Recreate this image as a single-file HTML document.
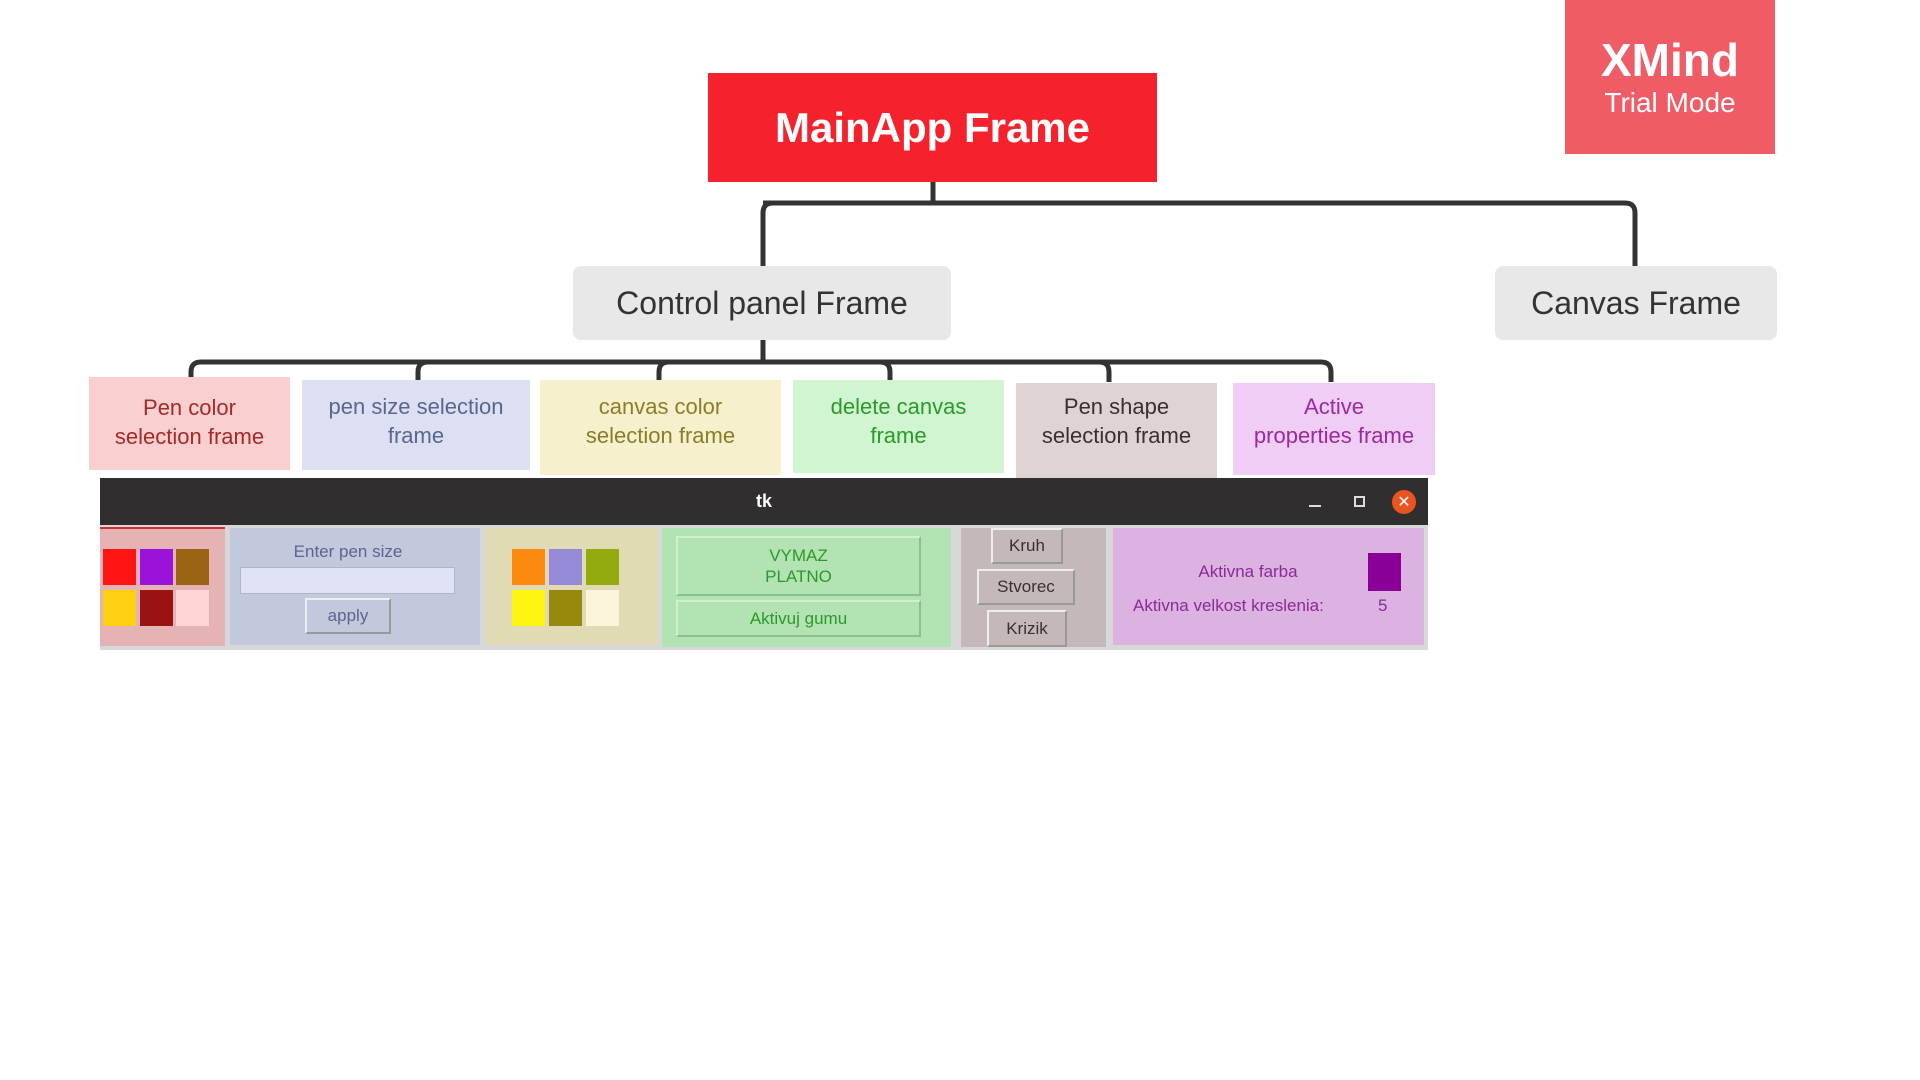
<!DOCTYPE html>
<html><head><meta charset="utf-8"><style>
body{margin:0;width:1920px;height:1080px;background:#fff;position:relative;overflow:hidden;font-family:"Liberation Sans",sans-serif}
div{position:absolute;box-sizing:border-box}
.c{display:flex;align-items:center;justify-content:center;text-align:center}
.n{font-size:22px;line-height:29px;align-items:flex-start;padding-top:12px}
.sq{width:33px;height:36px}
.btn{border:2px solid #a9a9a9;border-color:#eee #999 #999 #eee;font-size:17px}
</style></head><body>
<svg width="1920" height="1080" style="position:absolute;left:0;top:0">
<g fill="none" stroke="#333" stroke-width="5">
<path d="M933 182V203H773Q763 203 763 213V266"/>
<path d="M763 203H1625Q1635 203 1635 213V266"/>
<path d="M763 340V362"/>
<path d="M191 382V372Q191 362 201 362H1321Q1331 362 1331 372V382"/>
<path d="M418 382V372Q418 362 428 362M659 382V372Q659 362 669 362M890 382V372Q890 362 880 362M1109 382V372Q1109 362 1099 362"/>
</g></svg>
<div class="c" style="left:708px;top:73px;width:449px;height:109px;background:#f5222d;color:#fff;font-size:42px;font-weight:bold">MainApp Frame</div>
<div class="c" style="left:1565px;top:0;width:210px;height:154px;background:#ef5c66;color:#fff;flex-direction:column"><span style="font-size:46px;font-weight:bold;line-height:52px">XMind</span><span style="font-size:28px;line-height:34px">Trial Mode</span></div>
<div class="c" style="left:573px;top:266px;width:378px;height:74px;background:#e8e8e8;border-radius:8px;color:#333;font-size:32px">Control panel Frame</div>
<div class="c" style="left:1495px;top:266px;width:282px;height:74px;background:#e8e8e8;border-radius:8px;color:#333;font-size:32px">Canvas Frame</div>
<div class="c n" style="left:89px;top:377px;width:201px;height:93px;background:#f9cfcf;color:#a52a2a;padding-top:16px">Pen color<br>selection frame</div>
<div class="c n" style="left:302px;top:380px;width:228px;height:90px;background:#dde0f3;color:#5a6590">pen size selection<br>frame</div>
<div class="c n" style="left:540px;top:380px;width:241px;height:95px;background:#f7f0cc;color:#8a7d2a">canvas color<br>selection frame</div>
<div class="c n" style="left:793px;top:380px;width:211px;height:93px;background:#d0f5d0;color:#2a9a2a">delete canvas<br>frame</div>
<div class="c n" style="left:1016px;top:383px;width:201px;height:96px;background:#ded4d4;color:#3a3030;padding-top:9px">Pen shape<br>selection frame</div>
<div class="c n" style="left:1233px;top:383px;width:202px;height:92px;background:#efcdf5;color:#9a2aa0;padding-top:9px">Active<br>properties frame</div>
<!-- window -->
<div style="left:100px;top:478px;width:1328px;height:172px;background:#d8d8d8"></div>
<div class="c" style="left:100px;top:478px;width:1328px;height:47px;background:#302e2e;color:#fff;font-weight:bold;font-size:18px">tk</div>
<div style="left:1309px;top:505px;width:12px;height:2px;background:#ddd"></div>
<div style="left:1354px;top:496px;width:11px;height:11px;border:2px solid #ddd"></div>
<div class="c" style="left:1392px;top:490px;width:24px;height:24px;border-radius:50%;background:#e95420;color:#fff;font-size:16px">✕</div>
<div style="left:100px;top:527px;width:125px;height:119px;background:#e6b3b5;border-top:2px solid #d03030"></div>
<div class="sq" style="left:103px;top:549px;background:#ff1414"></div>
<div class="sq" style="left:140px;top:549px;background:#9b12d8"></div>
<div class="sq" style="left:176px;top:549px;background:#9a6412"></div>
<div class="sq" style="left:103px;top:590px;background:#ffd012"></div>
<div class="sq" style="left:140px;top:590px;background:#9a1212"></div>
<div class="sq" style="left:176px;top:590px;background:#ffd4d4"></div>
<div style="left:230px;top:528px;width:250px;height:117px;background:#c3c8dc"></div>
<div class="c" style="left:230px;top:540px;width:236px;height:24px;color:#5a6590;font-size:17px">Enter pen size</div>
<div style="left:240px;top:567px;width:215px;height:27px;background:#dfe3f5;border:1px solid #b0b4c8"></div>
<div class="c btn" style="left:305px;top:598px;width:86px;height:36px;color:#5a6590;background:#c3c8dc">apply</div>
<div style="left:485px;top:528px;width:173px;height:117px;background:#e0dbb5"></div>
<div class="sq" style="left:512px;top:549px;background:#fb8a0e"></div>
<div class="sq" style="left:549px;top:549px;background:#958ad8"></div>
<div class="sq" style="left:586px;top:549px;background:#95aa0e"></div>
<div class="sq" style="left:512px;top:590px;background:#fff510"></div>
<div class="sq" style="left:549px;top:590px;background:#958a0e"></div>
<div class="sq" style="left:586px;top:590px;background:#fbf5db"></div>
<div style="left:662px;top:528px;width:289px;height:119px;background:#b3e2b3"></div>
<div class="c btn" style="left:676px;top:536px;width:245px;height:60px;color:#2a9a2a;background:#b3e2b3;border-color:#d0f0d0 #8ac08a #8ac08a #d0f0d0;line-height:21px">VYMAZ<br>PLATNO</div>
<div class="c btn" style="left:676px;top:600px;width:245px;height:37px;color:#2a9a2a;background:#b3e2b3;border-color:#d0f0d0 #8ac08a #8ac08a #d0f0d0">Aktivuj gumu</div>
<div style="left:961px;top:528px;width:145px;height:119px;background:#c5b8b8"></div>
<div class="c btn" style="left:991px;top:528px;width:72px;height:36px;color:#3a3030;background:#c5b8b8">Kruh</div>
<div class="c btn" style="left:977px;top:569px;width:98px;height:36px;color:#3a3030;background:#c5b8b8">Stvorec</div>
<div class="c btn" style="left:987px;top:610px;width:80px;height:37px;color:#3a3030;background:#c5b8b8">Krizik</div>
<div style="left:1113px;top:528px;width:311px;height:117px;background:#dbb2e0"></div>
<div class="c" style="left:1148px;top:560px;width:200px;height:24px;color:#8a2a96;font-size:17px">Aktivna farba</div>
<div style="left:1368px;top:553px;width:33px;height:38px;background:#8a0096"></div>
<div style="left:1133px;top:594px;width:260px;height:24px;color:#8a2a96;font-size:17px;line-height:24px">Aktivna velkost kreslenia:</div>
<div style="left:1378px;top:594px;width:20px;height:24px;color:#8a2a96;font-size:17px;line-height:24px">5</div>
</body></html>
